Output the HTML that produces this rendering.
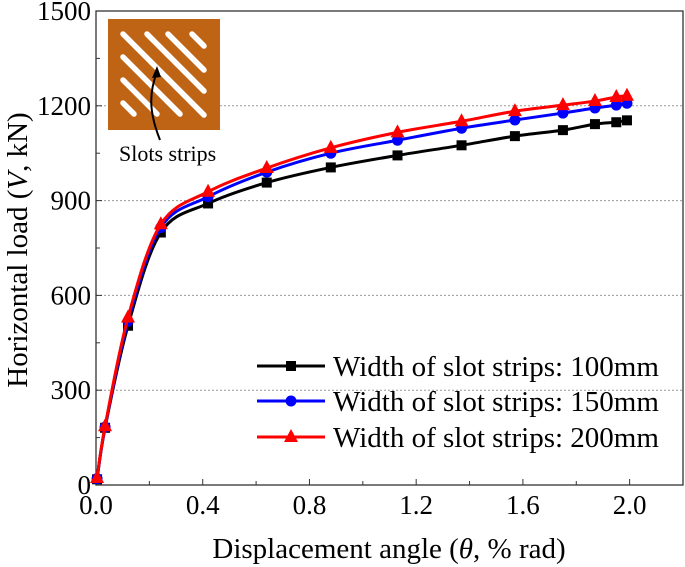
<!DOCTYPE html>
<html><head><meta charset="utf-8"><style>
html,body{margin:0;padding:0;background:#fff;}
svg{display:block;font-family:"Liberation Serif",serif;}
</style></head><body>
<svg id="chart" width="685" height="567" viewBox="0 0 685 567" xmlns="http://www.w3.org/2000/svg">
<g id="grid"></g>
<g id="axes"></g>
<g id="series"></g>
<g id="inset">
  <rect x="108" y="19" width="112" height="111" fill="#bf6414"/>
  <g stroke="#fff" stroke-width="5.5" stroke-linecap="round">
    <line x1="123" y1="34" x2="204" y2="115"/>
    <line x1="147" y1="34" x2="204" y2="91"/>
    <line x1="168" y1="34" x2="204" y2="70"/>
    <line x1="192" y1="34" x2="204" y2="46"/>
    <line x1="123" y1="57" x2="180" y2="114"/>
    <line x1="123" y1="80" x2="157" y2="114"/>
    <line x1="123" y1="103" x2="134" y2="114"/>
  </g>
  <path d="M160 140 C150 115,148 95,157 72" fill="none" stroke="#000" stroke-width="2"/>
  <polygon points="157,66 152,78 161,77" fill="#000"/>
  <text x="119" y="161" font-size="22">Slots strips</text>
</g>
<g id="legend"></g>
<text x="389" y="558" font-size="29" text-anchor="middle">Displacement angle (<tspan font-style="italic">θ</tspan>, % rad)</text>
<text transform="translate(27,250) rotate(-90)" font-size="29" text-anchor="middle">Horizontal load (<tspan font-style="italic">V</tspan>, kN)</text>
</svg>
<script>
const theta = [0.004,0.034,0.12,0.243,0.42,0.64,0.88,1.13,1.37,1.57,1.75,1.87,1.95,1.99];
const load100 = [18,181,504,799,891,957,1005,1043,1075,1104,1123,1142,1148,1154];
const load150 = [20,183,518,815,912,990,1050,1091,1129,1155,1177,1193,1202,1208];
const load200 = [22,186,530,825,928,1003,1067,1116,1151,1183,1202,1215,1228,1232];
const xTicks = [0.0,0.4,0.8,1.2,1.6,2.0];
const xTickLabels = ["0.0","0.4","0.8","1.2","1.6","2.0"];
const yTicks = [0,300,600,900,1200,1500];
const legendLabels = ["Width of slot strips: 100mm","Width of slot strips: 150mm","Width of slot strips: 200mm"];

const X0=96, X1=683, Y0=485, Y1=11, XMAX=2.2, YMAX=1500;
const sx=v=>X0+v/XMAX*(X1-X0);
const sy=v=>Y0-v/YMAX*(Y0-Y1);
const NS="http://www.w3.org/2000/svg";
function mk(parent,tag,attrs){const e=document.createElementNS(NS,tag);for(const k in attrs)e.setAttribute(k,attrs[k]);parent.appendChild(e);return e;}
const grid=document.getElementById('grid'), axes=document.getElementById('axes'), series=document.getElementById('series'), legend=document.getElementById('legend');

yTicks.forEach(v=>{
  if(v>0&&v<YMAX){
    const g=mk(grid,'line',{x1:X0,x2:X1,y1:sy(v),y2:sy(v),stroke:'#999','stroke-width':1,'stroke-dasharray':'2,2'});
    
    
  }
  const t=mk(axes,'text',{x:X0-5,y:sy(v)+9,'font-size':27,'text-anchor':'end'});
  t.textContent=v;
  
  
  mk(axes,'line',{x1:X0,x2:X0+6,y1:sy(v),y2:sy(v),stroke:'#333','stroke-width':1});
  if(v<YMAX) mk(axes,'line',{x1:X0,x2:X0+4,y1:sy(v+150),y2:sy(v+150),stroke:'#333','stroke-width':1});
});
xTicks.forEach((v,i)=>{
  mk(axes,'line',{x1:sx(v),x2:sx(v),y1:Y0,y2:Y0-6,stroke:'#333','stroke-width':1});
  mk(axes,'line',{x1:sx(v+0.2),x2:sx(v+0.2),y1:Y0,y2:Y0-4,stroke:'#333','stroke-width':1});
  const t=mk(axes,'text',{x:sx(v),y:514,'font-size':27,'text-anchor':'middle'});
  t.textContent=xTickLabels[i];
  
  
});
const frame=mk(axes,'rect',{x:X0,y:Y1,width:X1-X0,height:Y0-Y1,fill:'none',stroke:'#333','stroke-width':1.3});



function pathFor(ys){
  const p=theta.map((t,i)=>[sx(t),sy(ys[i])]);
  let d='M'+p[0][0]+' '+p[0][1];
  for(let i=0;i<p.length-1;i++){
    const a=p[Math.max(i-1,0)],b=p[i],c=p[i+1],e=p[Math.min(i+2,p.length-1)];
    const c1=[b[0]+(c[0]-a[0])/6,b[1]+(c[1]-a[1])/6], c2=[c[0]-(e[0]-b[0])/6,c[1]-(e[1]-b[1])/6];
    d+=` C${c1[0]} ${c1[1]},${c2[0]} ${c2[1]},${c[0]} ${c[1]}`;
  }
  return d;
}
function marker(g,type,x,y,color){
  let m;
  if(type==='square') m=mk(g,'rect',{x:x-5,y:y-5,width:10,height:10,fill:color});
  else if(type==='circle') m=mk(g,'circle',{cx:x,cy:y,r:5.5,fill:color});
  else m=mk(g,'polygon',{points:`${x},${y-8} ${x-7},${y+5} ${x+7},${y+5}`,fill:color});
  return m;
}
const defs=[[load100,'#000','square','series-100mm'],[load150,'#0000ff','circle','series-150mm'],[load200,'#ff0000','triangle','series-200mm']];
defs.forEach(([ys,color,type,name],si)=>{
  const g=mk(series,'g',{});
  
  
  const pth=mk(g,'path',{d:pathFor(ys),fill:'none',stroke:color,'stroke-width':3});
  
  
  theta.forEach((t,i)=>{
    const m=marker(g,type,sx(t),sy(ys[i]),color);
    
    
  });
  const ly=[366,401,437][si];
  const le=mk(legend,'g',{});
  
  
  mk(le,'line',{x1:257,x2:325,y1:ly,y2:ly,stroke:color,'stroke-width':3});
  marker(le,type,291,ly,color);
  const t=mk(le,'text',{x:333,y:ly+10,'font-size':29});
  t.textContent=legendLabels[si];
});
</script>
</body></html>
